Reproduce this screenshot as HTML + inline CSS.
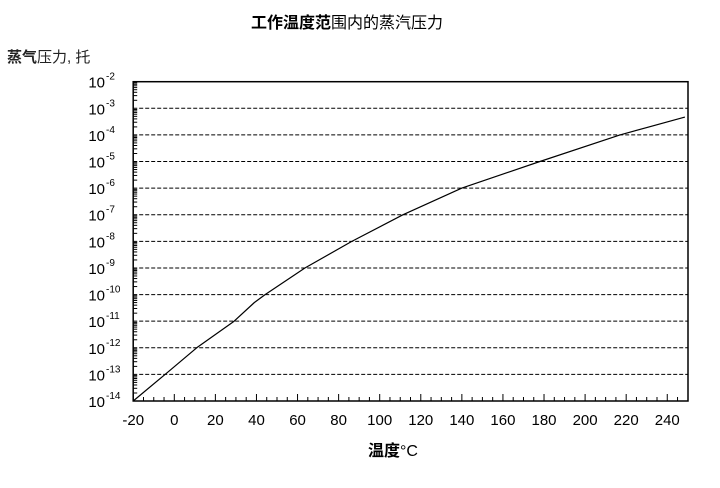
<!DOCTYPE html>
<html><head><meta charset="utf-8"><style>
body{margin:0;background:#fff;width:720px;height:483px;overflow:hidden}
text{font-family:"Liberation Sans","Noto Sans CJK SC",sans-serif}
</style></head><body>
<svg id="s" width="720" height="483" xmlns="http://www.w3.org/2000/svg">
<text x="251" y="28" font-size="16" fill="#000"><tspan font-weight="bold">工作温度范</tspan>围内的蒸汽压力</text>
<text x="7" y="62" font-size="15" fill="#222"><tspan font-weight="bold">蒸气</tspan>压力, 托</text>
<text x="368" y="456" font-size="16" fill="#000"><tspan font-weight="bold">温度</tspan>°C</text>
<g id="g"></g>
</svg>
<script>
var g=document.getElementById('g'),h='';
var L=133.2,R=688,T=81.7,B=401,D=(B-T)/12;
function X(t){return 174.3+2.054*t}
function Y(l){return T+(-2-l)*D}
for(var k=-3;k>=-13;k--){var y=Y(k);h+='<line x1="'+L+'" x2="'+R+'" y1="'+y+'" y2="'+y+'" stroke="#000" stroke-width="1" stroke-dasharray="4,2"/>';}
for(var k=-14;k<=-2;k++){var y=Y(k);
 h+='<text x="105" y="'+(y+6)+'" font-size="15" text-anchor="end">10</text><text x="106" y="'+(y-2)+'" font-size="10">'+k+'</text>';
 if(k<-2)for(var m=2;m<10;m++){var yy=Y(k+Math.log10(m));h+='<line x1="'+L+'" x2="'+(L+4)+'" y1="'+yy+'" y2="'+yy+'" stroke="#000"/>';}
}
for(var t=-20;t<=245;t+=5){var x=X(t),len=(t%20==0)?7:4;h+='<line x1="'+x+'" x2="'+x+'" y1="'+B+'" y2="'+(B-len)+'" stroke="#000"/>';
 if(t%20==0)h+='<text x="'+x+'" y="'+(B+24)+'" font-size="15" text-anchor="middle">'+t+'</text>';}
var pts=[[-20,-14],[-4.5,-13],[10.9,-12],[29.1,-11],[39,-10.3],[44.2,-10],[63.6,-9],[86.4,-8],[111.4,-7],[140,-6],[178,-5],[217,-4],[248.6,-3.33]];
var d='';pts.forEach(function(p,i){d+=(i?'L':'M')+X(p[0]).toFixed(1)+','+Y(p[1]).toFixed(1)});
h+='<path d="'+d+'" fill="none" stroke="#000" stroke-width="1.2" stroke-linejoin="round"/>';
h+='<rect x="'+L+'" y="'+T+'" width="'+(R-L)+'" height="'+(B-T)+'" fill="none" stroke="#000" stroke-width="1.5"/>';
g.innerHTML=h;
</script>
</body></html>
